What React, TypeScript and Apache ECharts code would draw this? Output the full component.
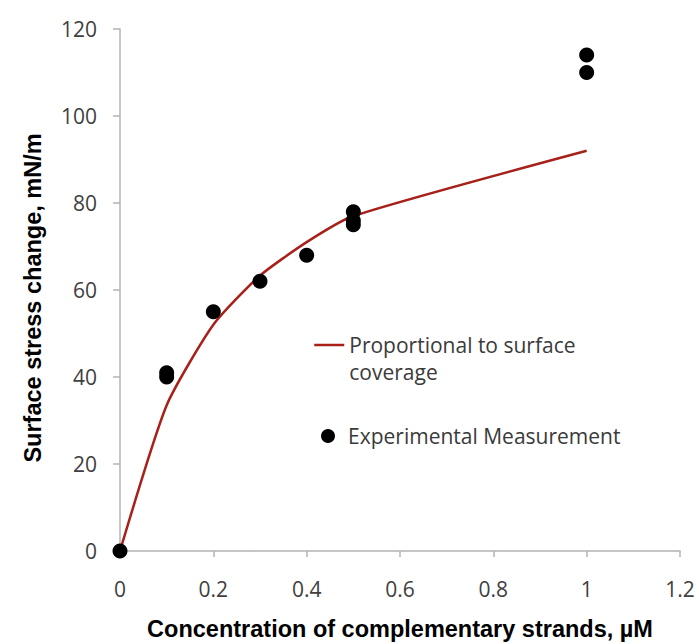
import React, { useEffect, useRef } from "react";
import * as echarts from "echarts";

const xTicksMin = 0;
const xTicksMax = 1.2;
const xTickStep = 0.2;
const yTicksMin = 0;
const yTicksMax = 120;
const yTickStep = 20;

const modelConc = [0, 0.1, 0.2, 0.3, 0.4, 0.5, 1.0];
const modelStress = [0, 33.5, 52, 63.3, 71, 77, 92];

const measConc = [0, 0.1, 0.1, 0.2, 0.3, 0.4, 0.5, 0.5, 0.5, 1.0, 1.0];
const measStress = [0, 41, 40, 55, 62, 68, 78, 76, 75, 114, 110];

const modelName = "Proportional to surface coverage";
const measName = "Experimental Measurement";
const xTitle = "Concentration of complementary strands, µM";
const yTitle = "Surface stress change, mN/m";

export default function App() {
  const ref = useRef<HTMLDivElement>(null);
  useEffect(() => {
    document.body.style.margin = "0";
    if (!ref.current) return;
    const chart = echarts.init(ref.current, null, { renderer: "svg" });
    const tickFont = {
      fontFamily: "Open Sans",
      fontSize: 21,
      color: "#404040",
    };
    const legendText = {
      fontFamily: "Open Sans",
      fontSize: 21,
      color: "#3a3a3a",
      lineHeight: 27,
    };
    chart.setOption({
      animation: false,
      backgroundColor: "#ffffff",
      grid: {
        left: 120,
        right: 19,
        top: 29,
        bottom: 93,
        containLabel: false,
        outerBoundsMode: "none",
      },
      xAxis: {
        type: "value",
        min: xTicksMin,
        max: xTicksMax,
        interval: xTickStep,
        name: xTitle,
        nameLocation: "middle",
        nameGap: 66,
        nameTextStyle: {
          fontFamily: "Liberation Sans",
          fontWeight: "bold",
          fontSize: 23.5,
          color: "#000",
        },
        axisLine: { show: true, lineStyle: { color: "#b3b3b3", width: 1.5 } },
        axisTick: { show: true, length: 6, lineStyle: { color: "#b3b3b3", width: 1.5 } },
        axisLabel: { ...tickFont, margin: 27 },
        splitLine: { show: false },
      },
      yAxis: {
        type: "value",
        min: yTicksMin,
        max: yTicksMax,
        interval: yTickStep,
        name: yTitle,
        nameLocation: "middle",
        nameGap: 75,
        nameTextStyle: {
          fontFamily: "Liberation Sans",
          fontWeight: "bold",
          fontSize: 23.5,
          color: "#000",
          padding: [0, 16, 0, 0],
        },
        axisLine: { show: true, lineStyle: { color: "#b3b3b3", width: 1.5 } },
        axisTick: { show: true, length: 7, lineStyle: { color: "#b3b3b3", width: 1.5 } },
        axisLabel: { ...tickFont, margin: 23 },
        splitLine: { show: false },
      },
      legend: [
        {
          data: [modelName],
          left: 313,
          top: 304.5,
          padding: 0,
          itemWidth: 30,
          itemHeight: 14,
          itemStyle: { opacity: 0 },
          lineStyle: { color: "#a8201a", width: 2.5 },
          formatter: () => "\nProportional to surface\ncoverage",
          textStyle: { ...legendText },
        },
        {
          data: [measName],
          left: 321,
          top: 422.5,
          padding: 0,
          itemWidth: 30,
          itemHeight: 14,
          textStyle: { ...legendText },
        },
      ],
      series: [
        {
          name: modelName,
          type: "line",
          data: modelConc.map((c, i) => [c, modelStress[i]]),
          symbol: "none",
          smooth: 0.2,
          lineStyle: { color: "#a8201a", width: 2.5 },
          itemStyle: { color: "#a8201a" },
          z: 2,
        },
        {
          name: measName,
          type: "scatter",
          data: measConc.map((c, i) => [c, measStress[i]]),
          symbol: "circle",
          symbolSize: 15,
          itemStyle: { color: "#000000", opacity: 1 },
          z: 3,
        },
      ],
    });
    return () => chart.dispose();
  }, []);
  return <div ref={ref} style={{ width: 699, height: 644 }} />;
}
